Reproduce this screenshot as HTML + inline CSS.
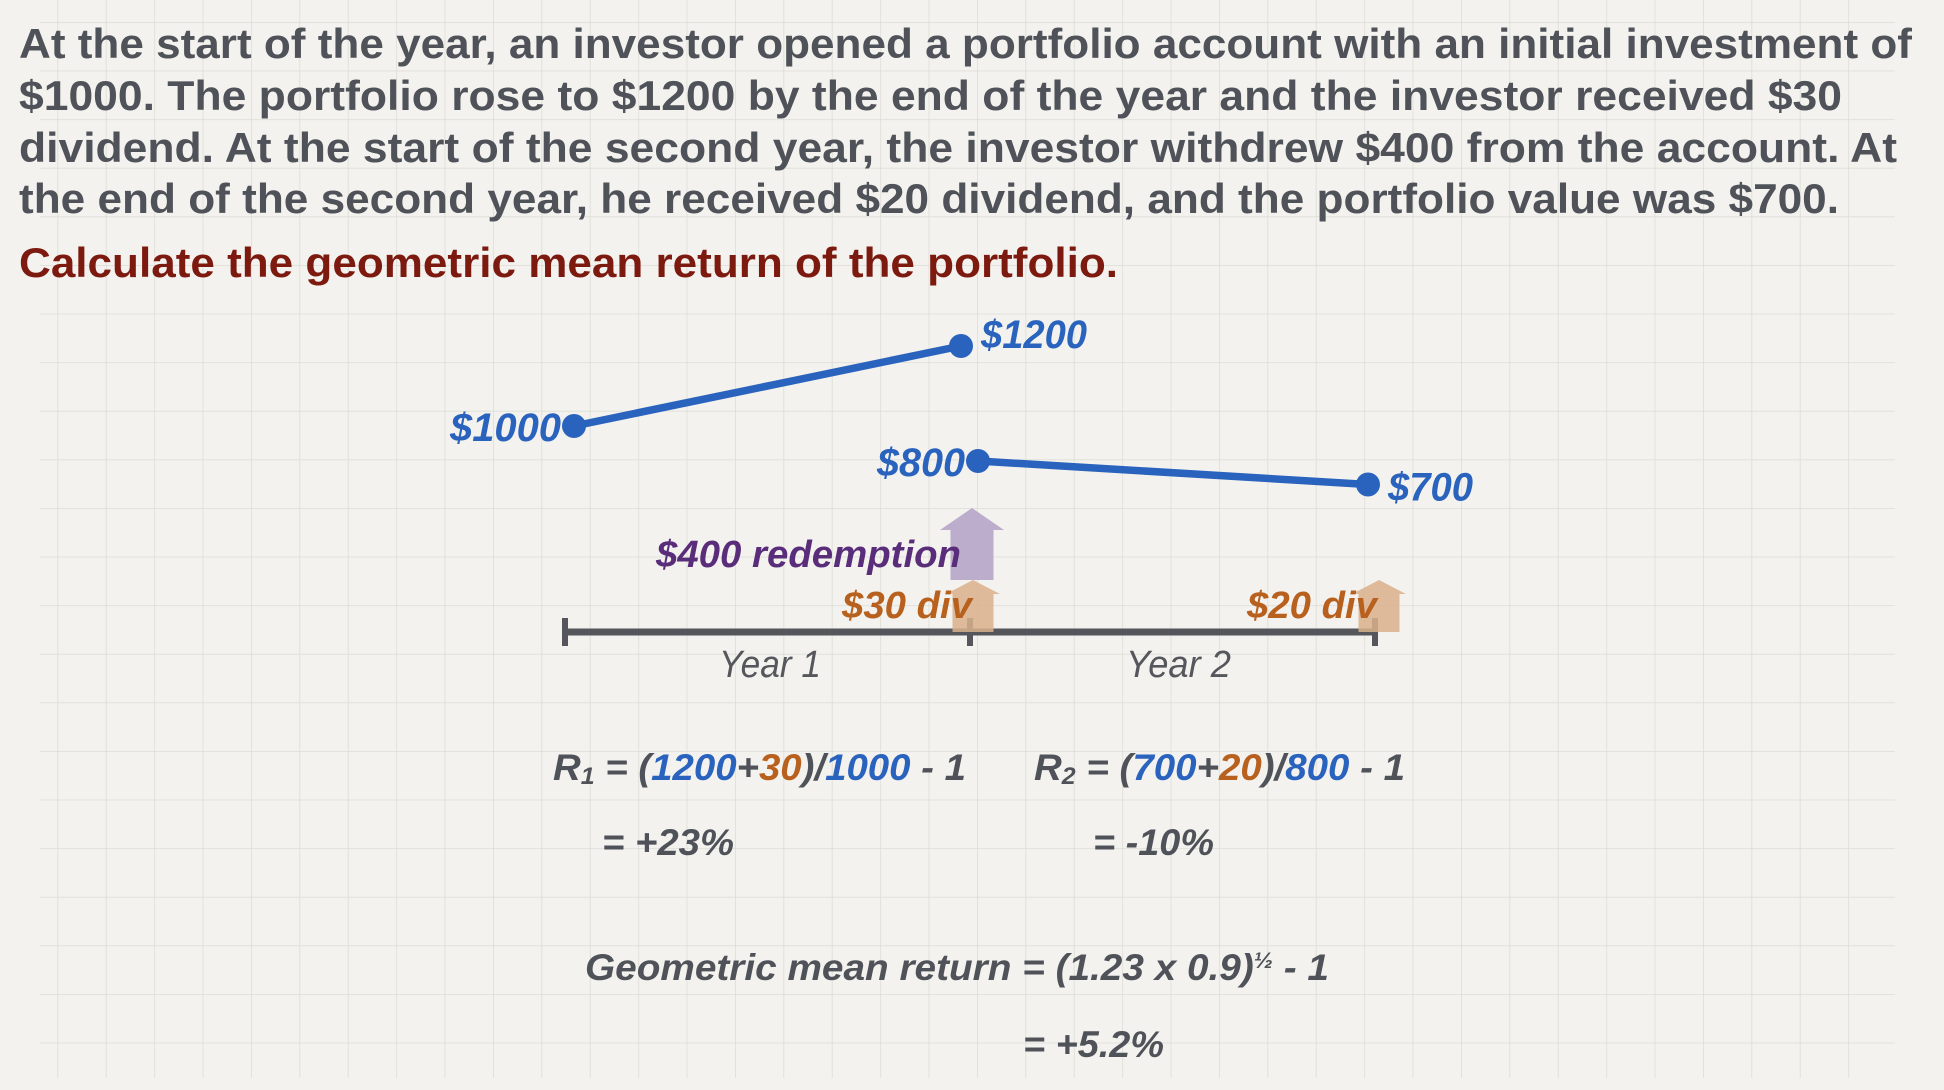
<!DOCTYPE html>
<html><head><meta charset="utf-8"><style>
html,body{margin:0;padding:0;background:#f3f2ee;}
svg{display:block;}
text{font-family:"Liberation Sans",sans-serif;}
</style></head><body>
<svg id="chart" width="1944" height="1090" viewBox="0 0 1944 1090" xmlns="http://www.w3.org/2000/svg">
<defs>
<pattern id="grid" x="9" y="22" width="48.4" height="48.6" patternUnits="userSpaceOnUse">
<path d="M0 0 H48.4 M0 0 V48.6" stroke="#dcdbd6" stroke-width="1.5" fill="none"/>
</pattern>
</defs>
<rect width="1944" height="1090" fill="#f3f2ee"/>
<rect x="40" y="0" width="1855" height="1078" fill="url(#grid)"/>
<g font-weight="bold" font-size="42" fill="#4f5258">
<text x="19" y="58" textLength="1893" lengthAdjust="spacingAndGlyphs">At the start of the year, an investor opened a portfolio account with an initial investment of</text>
<text x="19" y="110" textLength="1823" lengthAdjust="spacingAndGlyphs">$1000.  The portfolio rose to $1200 by the end of the year and the investor received $30</text>
<text x="19" y="162" textLength="1878" lengthAdjust="spacingAndGlyphs">dividend.  At the start of the second year, the investor withdrew $400 from the account. At</text>
<text x="19" y="213" textLength="1820" lengthAdjust="spacingAndGlyphs">the end of the second year, he received $20 dividend, and the portfolio value was $700.</text>
<text x="19" y="277" textLength="1099" lengthAdjust="spacingAndGlyphs" fill="#7d1a10">Calculate the geometric mean return of the portfolio.</text>
</g>
<g id="marks"></g>
<g font-style="italic" font-size="38" fill="#55575c">
<text x="719" y="677" textLength="102" lengthAdjust="spacingAndGlyphs">Year 1</text>
<text x="1126" y="677" textLength="105" lengthAdjust="spacingAndGlyphs">Year 2</text>
</g>
<g font-style="italic" font-weight="bold" font-size="37" fill="#4f5258">
<text x="553" y="780" textLength="413" lengthAdjust="spacingAndGlyphs">R<tspan font-size="24" dy="4">1</tspan><tspan dy="-4"> = (</tspan><tspan fill="#2a63bd">1200</tspan>+<tspan fill="#b8601e">30</tspan>)/<tspan fill="#2a63bd">1000</tspan> - 1</text>
<text x="1034" y="780" textLength="371" lengthAdjust="spacingAndGlyphs">R<tspan font-size="24" dy="4">2</tspan><tspan dy="-4"> = (</tspan><tspan fill="#2a63bd">700</tspan>+<tspan fill="#b8601e">20</tspan>)/<tspan fill="#2a63bd">800</tspan> - 1</text>
<text x="602" y="855" textLength="132" lengthAdjust="spacingAndGlyphs">= +23%</text>
<text x="1093" y="855" textLength="121" lengthAdjust="spacingAndGlyphs">= -10%</text>
<text x="585" y="980" textLength="744" lengthAdjust="spacingAndGlyphs">Geometric mean return = (1.23 x 0.9)<tspan font-size="22" dy="-12">½</tspan><tspan dy="12"> - 1</tspan></text>
<text x="1023" y="1057" textLength="141" lengthAdjust="spacingAndGlyphs">= +5.2%</text>
</g>
</svg>
<script>
// Data
const year1Values = [1000, 1200];
const year2Values = [800, 700];
const timePoints = [0, 1, 2];
const valueLabels1 = ["$1000", "$1200"];
const valueLabels2 = ["$800", "$700"];
const redemption = [400];
const dividends = [30, 20];
const yearLabels = ["Year 1", "Year 2"];

const NS = "http://www.w3.org/2000/svg";
const g = document.getElementById("marks");
function xScale(t){ return 565 + t * 405; }
function yScale1(v){ return 426 - (v - 1000) * 0.40; }
function yScale2(v){ return 461 - (v - 800) * 0.235; }
function el(tag, attrs){ const e=document.createElementNS(NS,tag); for(const k in attrs) e.setAttribute(k,attrs[k]); g.appendChild(e); return e; }

// timeline
const axis = el("line",{x1:xScale(0),y1:632,x2:xScale(2),y2:632,stroke:"#54565c","stroke-width":7});


timePoints.forEach(t=>{
  const tk = el("line",{x1:xScale(t),y1:618,x2:xScale(t),y2:646,stroke:"#54565c","stroke-width":6});
  
  
});

// arrows
function arrow(cx, top, bottom, headH, bw, hw, color, op){
  const p = `M${cx-bw/2} ${bottom} V${top+headH} H${cx-hw/2} L${cx} ${top} L${cx+hw/2} ${top+headH} H${cx+bw/2} V${bottom} Z`;
  return el("path",{d:p,fill:color,opacity:op});
}
const redH = redemption[0] * 0.18;
const ra = arrow(972, 580 - redH, 580, 22, 43, 64, "#b7a5c9", 0.9);


dividends.forEach((d,i)=>{
  const h = 52;
  const a = arrow(xScale(i+1)+(i===0?3:4), 632-h, 632, 14, 41, 54, "#d9b08c", 0.85);
  
  
});

// series lines
const labelWidths = {"$1000":111,"$1200":106,"$800":88,"$700":85};
function series(vals, ys, t0, labels, name){
  const x1=xScale(t0), x2=xScale(t0+1);
  const xa = x1 + (t0===1?8:9), xb = x2 + (t0===1?-7:-9);
  const ln = el("line",{x1:xa,y1:ys(vals[0]),x2:xb,y2:ys(vals[1]),stroke:"#2a63bd","stroke-width":7.5});
  
  
  [xa, xb].forEach((x,i)=>{
    const c = el("circle",{cx:x,cy:ys(vals[i]),r:12,fill:"#2a63bd"});
    
    
    const tx = el("text",{x: i===0 ? x-13 : x+20, y: ys(vals[i])+ (i===0?15:2) + (t0===1&&i===1?14:0), "text-anchor": i===0?"end":"start", fill:"#2a63bd","font-size":40,"font-weight":"bold","font-style":"italic",textLength:labelWidths[labels[i]]||100,lengthAdjust:"spacingAndGlyphs"});
    tx.textContent = labels[i];
    
    
  });
}
series(year1Values, yScale1, 0, valueLabels1, "year-1");
series(year2Values, yScale2, 1, valueLabels2, "year-2");

// annotation labels
const rl = el("text",{x:961,y:567,"text-anchor":"end",fill:"#5a2d7a","font-size":38,"font-weight":"bold","font-style":"italic",textLength:305,lengthAdjust:"spacingAndGlyphs"});
rl.textContent = "$" + redemption[0] + " redemption";


dividends.forEach((d,i)=>{
  const t = el("text",{x:xScale(i+1)+2,y:618,"text-anchor":"end",fill:"#b8601e","font-size":38,"font-weight":"bold","font-style":"italic",textLength:130,lengthAdjust:"spacingAndGlyphs"});
  t.textContent = "$" + d + " div";
  
  
});
</script>
</body></html>
